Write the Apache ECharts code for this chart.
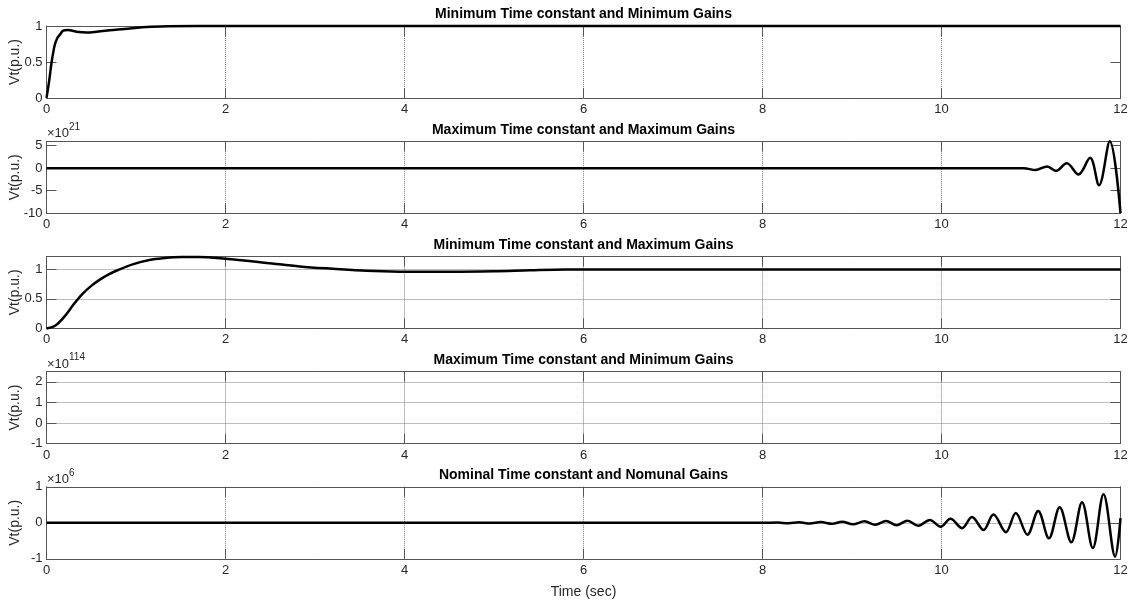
<!DOCTYPE html>
<html>
<head>
<meta charset="utf-8">
<script src="https://cdn.jsdelivr.net/npm/echarts@6/dist/echarts.min.js"></script>
<style>
  html, body { margin: 0; padding: 0; background: #ffffff; }
  #chart { width: 1139px; height: 601px; }
</style>
</head>
<body>
<div id="chart"></div>
<script>
// Terminal voltage Vt (p.u.) against time for five exciter parameter sets.

const panelTitles = [
  'Minimum Time constant and Minimum Gains',
  'Maximum Time constant and Maximum Gains',
  'Minimum Time constant and Maximum Gains',
  'Maximum Time constant and Minimum Gains',
  'Nominal Time constant and Nomunal Gains'
];

// x axis (seconds)
const timeMin = 0, timeMax = 12, timeStep = 2;

// y axis ranges per panel: [min, max, tick step]
const yRange1 = [0, 1, 0.5];
const yRange2 = [-10, 6, 5];
const yRange3 = [0, 1.22, 0.5];
const yRange4 = [-1, 2.5, 1];
const yRange5 = [-1, 1, 1];

// power-of-ten multipliers shown above the y axes (null = none)
const exponents = [null, '21', null, '114', '6'];

// Panel 1: minimum time constant, minimum gains
const t1 = [0, 0.03, 0.056, 0.075, 0.093, 0.12, 0.15, 0.186, 0.24, 0.29, 0.335, 0.447, 0.56, 0.745, 0.93, 1.12, 1.35, 1.7, 2.0, 12];
const v1 = [0, 0.24, 0.49, 0.63, 0.74, 0.83, 0.88, 0.935, 0.945, 0.935, 0.92, 0.91, 0.92, 0.945, 0.965, 0.985, 0.995, 1.0, 1.0, 1.0];

// Panel 2: maximum time constant, maximum gains (x 1e21)
const t2 = [0, 10.92, 11.05, 11.18, 11.28, 11.40, 11.53, 11.66, 11.76, 11.88, 12.0];
const v2 = [0, 0, -0.4, 0.4, -0.6, 1.1, -1.4, 2.3, -3.8, 6.0, -10];

// Panel 3: minimum time constant, maximum gains
const t3 = [0, 0.1, 0.2, 0.3, 0.4, 0.5, 0.6, 0.7, 0.8, 0.97, 1.15, 1.3, 1.5, 1.7, 2.0, 2.46, 2.83, 3.2, 3.58, 3.95, 4.5, 5.0, 5.4, 5.8, 6.5, 12];
const v3 = [0, 0.05, 0.2, 0.4, 0.58, 0.72, 0.83, 0.92, 0.99, 1.09, 1.16, 1.19, 1.21, 1.21, 1.18, 1.11, 1.05, 1.01, 0.975, 0.962, 0.96, 0.968, 0.985, 0.998, 1.0, 1.0];

// Panel 4: maximum time constant, minimum gains (x 1e114) - diverges immediately
const t4 = [];
const v4 = [];

// Panel 5: nominal time constant, nominal gains (x 1e6)
const t5 = [0, 8.0, 8.17, 8.29, 8.41, 8.53, 8.65, 8.78, 8.89, 9.01, 9.14, 9.26, 9.38, 9.50, 9.62, 9.74, 9.87, 9.99,
            10.10, 10.23, 10.34, 10.47, 10.58, 10.72, 10.83, 10.96, 11.08, 11.20, 11.32, 11.45, 11.57, 11.69, 11.81, 11.94, 12.0];
const v5 = [0, 0, 0.005, -0.01, 0.012, -0.018, 0.02, -0.028, 0.03, -0.04, 0.04, -0.055, 0.05, -0.065, 0.06, -0.085, 0.08, -0.11,
            0.11, -0.15, 0.16, -0.2, 0.23, -0.26, 0.27, -0.33, 0.33, -0.43, 0.43, -0.54, 0.57, -0.70, 0.79, -0.94, 0.13];

const times = [t1, t2, t3, t4, t5];
const values = [v1, v2, v3, v4, v5];
const yRanges = [yRange1, yRange2, yRange3, yRange4, yRange5];
const showYGrid = [false, false, true, true, true];

const FONT = 'Arial, "Liberation Sans", Helvetica, sans-serif';
const AXIS_COLOR = '#555555';
const TEXT_COLOR = '#262626';
const GRID_COLOR = '#7a7a7a';

const plotLeft = 46.5, plotRight = 18.5, plotTop0 = 26, plotStep = 115.2, plotHeight = 72;
const centerX = plotLeft + (1139 - plotLeft - plotRight) / 2;

const grids = [], xAxes = [], yAxes = [], series = [], titles = [], graphics = [];

const tickStyle = { show: true, inside: true, length: 10, lineStyle: { color: AXIS_COLOR, width: 1 } };
const lineStyleAxis = { show: true, onZero: false, lineStyle: { color: AXIS_COLOR, width: 1 } };

for (let i = 0; i < 5; i++) {
  const top = plotTop0 + i * plotStep;
  grids.push({
    left: plotLeft, right: plotRight, top: top, height: plotHeight,
    containLabel: false, outerBoundsMode: 'none'
  });

  const [ymin, ymax, ystep] = yRanges[i];
  const maxOnTick = Math.abs(ymax / ystep - Math.round(ymax / ystep)) < 1e-9;

  // bottom x axis with labels
  xAxes.push({
    type: 'value', gridIndex: i, position: 'bottom',
    min: timeMin, max: timeMax, interval: timeStep,
    axisLine: lineStyleAxis, axisTick: tickStyle,
    axisLabel: { show: true, margin: 5, fontSize: 13, fontFamily: FONT, color: TEXT_COLOR },
    splitLine: { show: true, lineStyle: { type: 'dotted', color: GRID_COLOR, width: 1 } },
    name: i === 4 ? 'Time (sec)' : '',
    nameLocation: 'middle', nameGap: 26, nameMoveOverlap: false,
    nameTextStyle: { fontSize: 14, fontFamily: FONT, color: TEXT_COLOR }
  });
  // top x axis: box edge and mirrored ticks
  xAxes.push({
    type: 'value', gridIndex: i, position: 'top',
    min: timeMin, max: timeMax, interval: timeStep,
    axisLine: lineStyleAxis, axisTick: tickStyle,
    axisLabel: { show: false }, splitLine: { show: false }
  });
  // left y axis with labels
  yAxes.push({
    type: 'value', gridIndex: i, position: 'left',
    min: ymin, max: ymax, interval: ystep,
    axisLine: lineStyleAxis, axisTick: tickStyle,
    axisLabel: { show: true, margin: 4, fontSize: 13, fontFamily: FONT, color: TEXT_COLOR, showMaxLabel: maxOnTick },
    splitLine: { show: showYGrid[i], lineStyle: { type: 'dotted', color: GRID_COLOR, width: 1 } },
    name: 'Vt(p.u.)', nameLocation: 'middle', nameGap: 24, nameRotate: 90, nameMoveOverlap: false,
    nameTextStyle: { fontSize: 14, fontFamily: FONT, color: TEXT_COLOR }
  });
  // right y axis: box edge and mirrored ticks
  yAxes.push({
    type: 'value', gridIndex: i, position: 'right',
    min: ymin, max: ymax, interval: ystep,
    axisLine: lineStyleAxis, axisTick: tickStyle,
    axisLabel: { show: false }, splitLine: { show: false }
  });

  series.push({
    type: 'line',
    xAxisIndex: 2 * i, yAxisIndex: 2 * i,
    data: times[i].map((t, k) => [t, values[i][k]]),
    showSymbol: false, symbol: 'none',
    smooth: 0.35, clip: false,
    lineStyle: { color: '#000000', width: 2.5 },
    z: 5
  });

  titles.push({
    text: panelTitles[i],
    left: centerX, top: top - 18.5, textAlign: 'center', padding: 0,
    textStyle: { fontSize: 14, fontWeight: 'bold', fontFamily: FONT, color: '#000000' }
  });

  if (exponents[i] !== null) {
    graphics.push({
      type: 'text', left: 47, top: top - 14,
      style: { text: '×10', fontSize: 13, fontFamily: FONT, fill: TEXT_COLOR }
    });
    graphics.push({
      type: 'text', left: 69, top: top - 19,
      style: { text: exponents[i], fontSize: 10, fontFamily: FONT, fill: TEXT_COLOR }
    });
  }
}

const chart = echarts.init(document.getElementById('chart'), null, { renderer: 'canvas' });
chart.setOption({
  animation: false,
  backgroundColor: '#ffffff',
  title: titles,
  grid: grids,
  xAxis: xAxes,
  yAxis: yAxes,
  series: series,
  graphic: graphics
});
</script>
</body>
</html>
